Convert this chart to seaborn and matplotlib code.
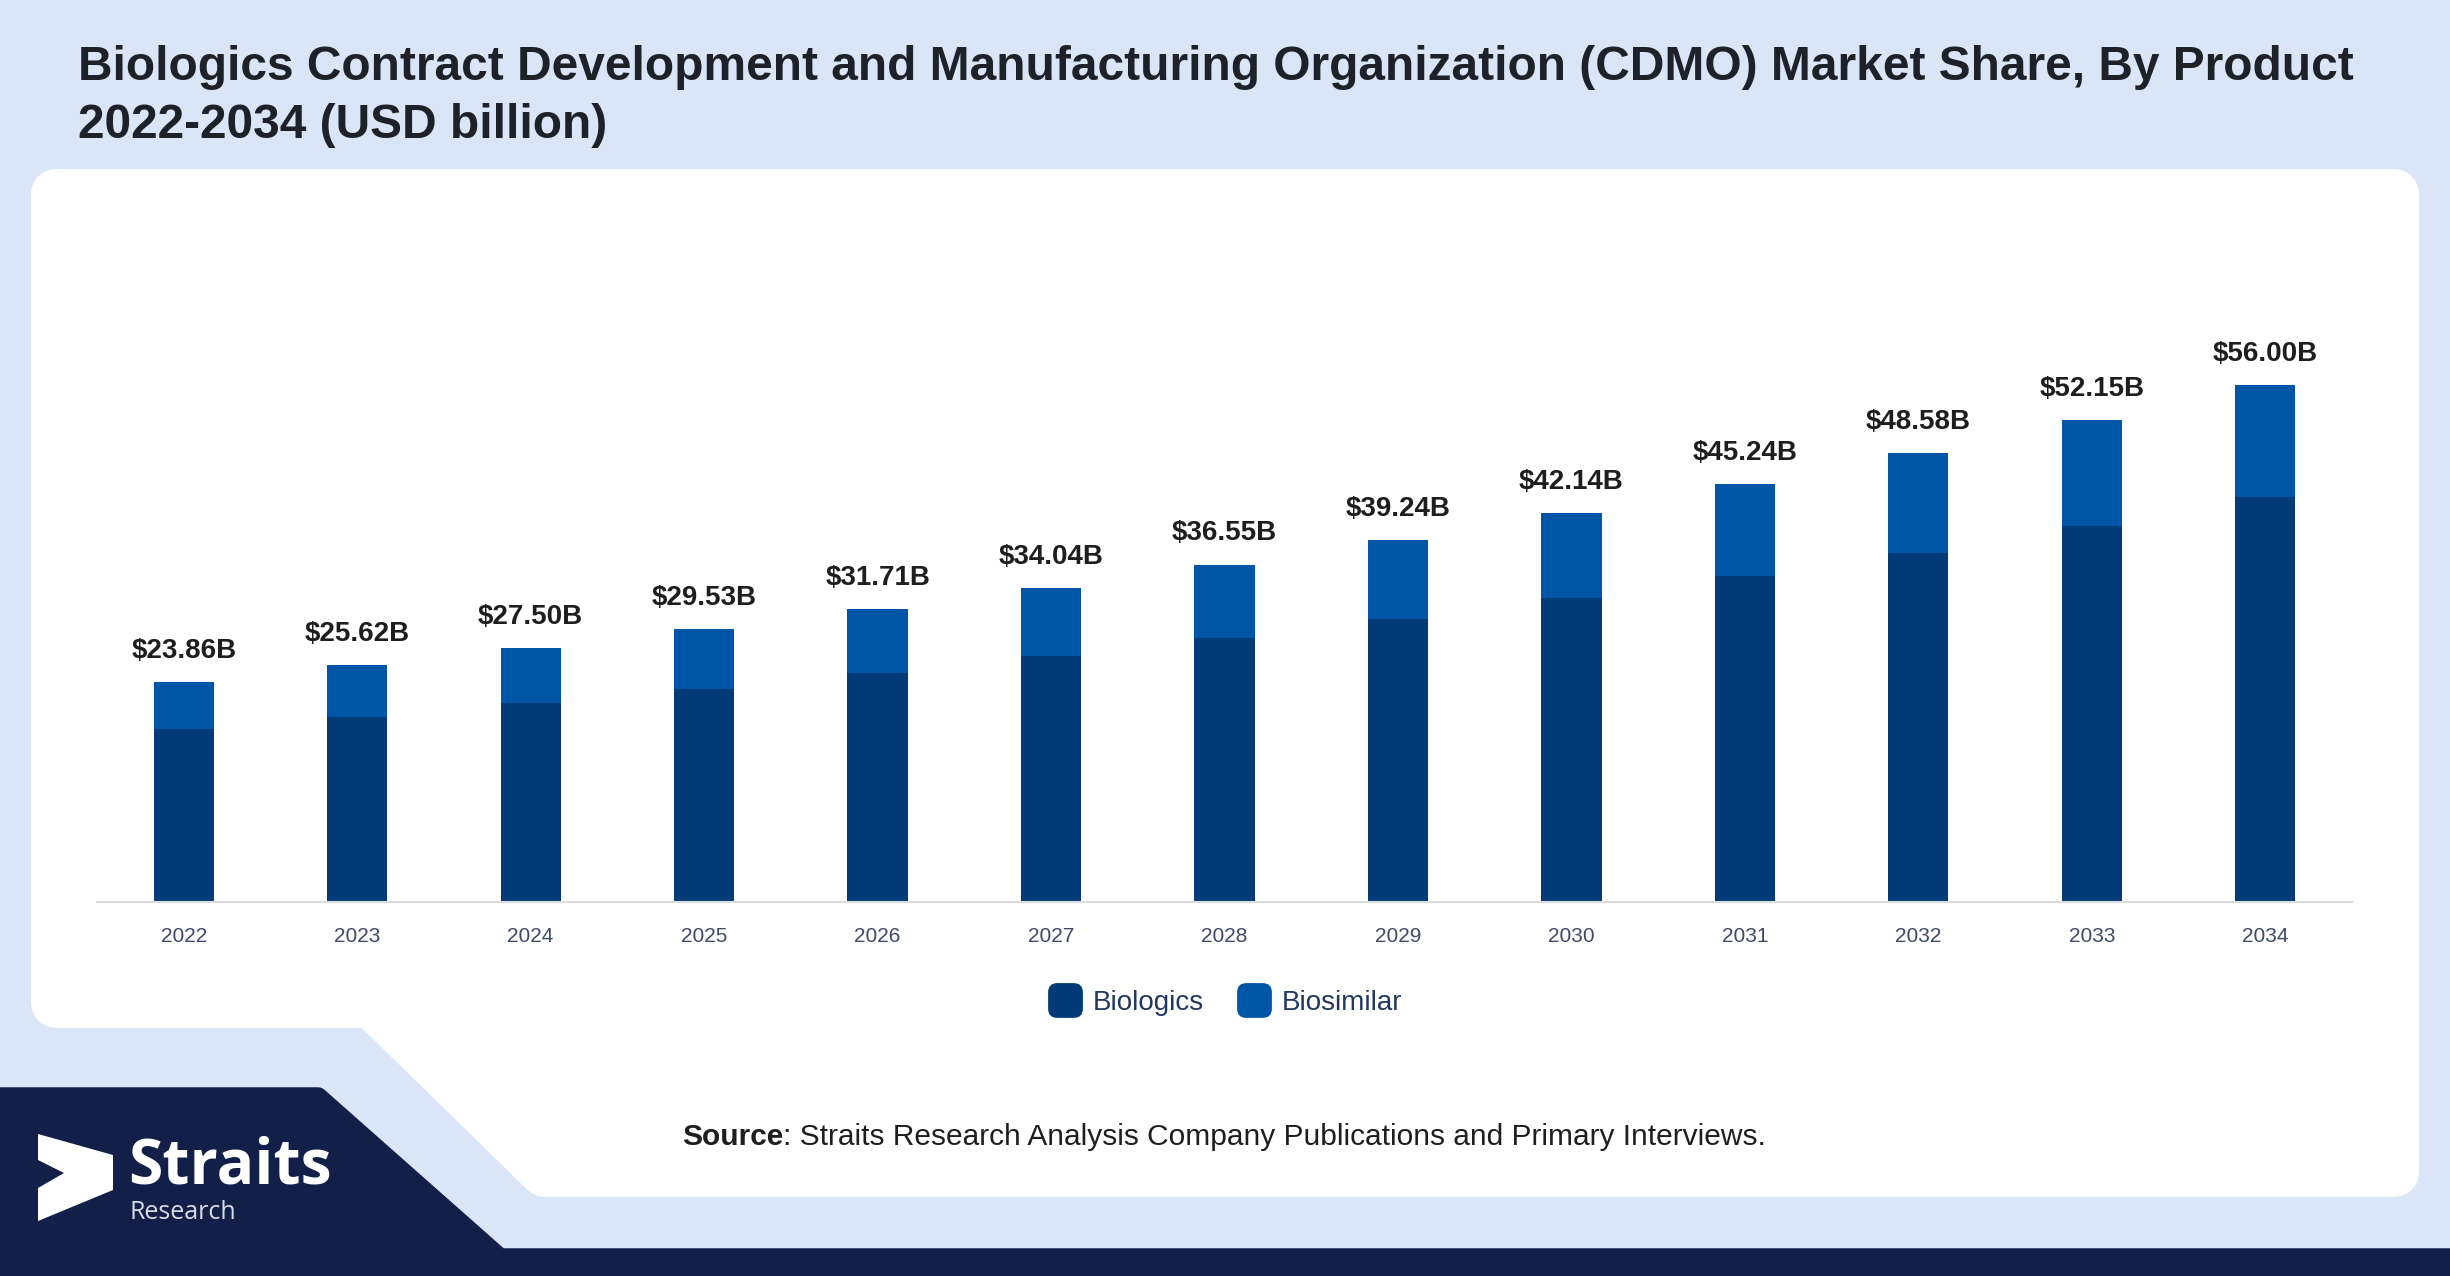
import numpy as np
import pandas as pd
import seaborn as sns
import matplotlib.pyplot as plt
from matplotlib.patches import Polygon, BoxStyle
from matplotlib.lines import Line2D

years = ["2022", "2023", "2024", "2025", "2026", "2027", "2028",
         "2029", "2030", "2031", "2032", "2033", "2034"]
totals = [23.86, 25.62, 27.50, 29.53, 31.71, 34.04, 36.55,
          39.24, 42.14, 45.24, 48.58, 52.15, 56.00]
biologics = [18.78, 20.01, 21.51, 23.12, 24.75, 26.62, 28.60,
             30.66, 32.96, 35.35, 37.83, 40.71, 43.85]
biosimilar = [5.08, 5.61, 5.99, 6.41, 6.96, 7.42, 7.95,
              8.58, 9.18, 9.89, 10.75, 11.44, 12.15]

c_bio = "#023b78"
c_sim = "#0155a7"
c_bg = "#dae6f8"
c_navy = "#121f48"

sns.set_style("white")
plt.rcParams['font.family'] = ['Liberation Sans', 'DejaVu Sans']

W, H = 2450, 1276
fig = plt.figure(figsize=(W / 100, H / 100), dpi=100, facecolor=c_bg)

# background shapes drawn in pixel coords (y down)
bg = fig.add_axes([0, 0, 1, 1])
bg.set_xlim(0, W)
bg.set_ylim(H, 0)
bg.axis("off")

# white panel, rounded with a fat stroke
panel = [(56, 194), (2394, 194), (2394, 1172), (545, 1172), (372, 1003), (56, 1003)]
bg.add_patch(Polygon(panel, closed=True, facecolor="white", edgecolor="white",
                     linewidth=36, joinstyle="round"))

# navy footer
footer = [(-40, 1097), (318, 1097), (500, 1258), (2500, 1258), (2500, 1300), (-40, 1300)]
bg.add_patch(Polygon(footer, closed=True, facecolor=c_navy, edgecolor=c_navy,
                     linewidth=14, joinstyle="round"))

# logo
chevron = [(38, 1134), (113, 1155), (113, 1190), (38, 1221), (38, 1188), (64, 1173), (38, 1160)]
bg.add_patch(Polygon(chevron, closed=True, facecolor="white", edgecolor="none"))
bg.text(128, 1184, "Straits", color="white", fontsize=45, fontweight="bold",
        family=["Open Sans", "DejaVu Sans"], va="baseline", ha="left")
bg.text(130, 1219, "Research", color="#d9dde8", fontsize=18,
        family=["Open Sans", "DejaVu Sans"], va="baseline", ha="left")

# title
bg.text(78, 80, "Biologics Contract Development and Manufacturing Organization (CDMO) Market Share, By Product",
        fontsize=34.5, fontweight="bold", color="#1e2228", va="baseline", ha="left")
bg.text(78, 138, "2022-2034 (USD billion)",
        fontsize=34.5, fontweight="bold", color="#1e2228", va="baseline", ha="left")

# source line
src_b = bg.text(682, 1145, "Source", fontsize=21.5, fontweight="bold", color="#1e1e1e",
                va="baseline", ha="left")
fig.canvas.draw()
bb = src_b.get_window_extent()
bg.text(682 + bb.width, 1145, ": Straits Research Analysis Company Publications and Primary Interviews.",
        fontsize=21.5, color="#1e1e1e", va="baseline", ha="left")

# chart
ax = fig.add_axes([97 / W, 1 - 902 / H, (2352 - 97) / W, 554 / H])
ax.patch.set_alpha(0)

df = pd.DataFrame({"year": years, "total": totals, "biologics": biologics,
                   "biosimilar": biosimilar})

sns.barplot(data=df, x="year", y="total", color=c_sim, width=0.347,
            saturation=1, linewidth=0, ax=ax, order=years)
sns.barplot(data=df, x="year", y="biologics", color=c_bio, width=0.347,
            saturation=1, linewidth=0, ax=ax, order=years)

ax.bar_label(ax.containers[0], labels=["$%.2fB" % t for t in totals],
             padding=13, fontsize=20, fontweight="bold", color="#1e1e1e")

ax.set_xlim(-0.5, 12.5)
ax.set_ylim(0, 60)
ax.set_xlabel("")
ax.set_ylabel("")
ax.set_yticks([])
for s in ["top", "right", "left"]:
    ax.spines[s].set_visible(False)
ax.spines["bottom"].set_color("#dcdcdc")
ax.spines["bottom"].set_linewidth(1.5)
ax.tick_params(axis="x", length=0, pad=18, labelsize=15, labelcolor="#3e4a68")

# legend with rounded squares
rs = BoxStyle.Round(pad=0, rounding_size=0.25)(-0.5, -0.5, 1, 1, 1)
handles = [Line2D([], [], linestyle="none", marker=rs, markersize=24,
                  markerfacecolor=c, markeredgecolor=c, label=l)
           for c, l in [(c_bio, "Biologics"), (c_sim, "Biosimilar")]]
leg = fig.legend(handles=handles, loc="center", bbox_to_anchor=(1225 / W, 1 - 1003 / H),
                 ncol=2, frameon=False, fontsize=20, handlelength=1.25,
                 handletextpad=0.4, columnspacing=1.15)
for t in leg.get_texts():
    t.set_color("#22385f")

fig.savefig("out.png", dpi=100, facecolor=c_bg)
